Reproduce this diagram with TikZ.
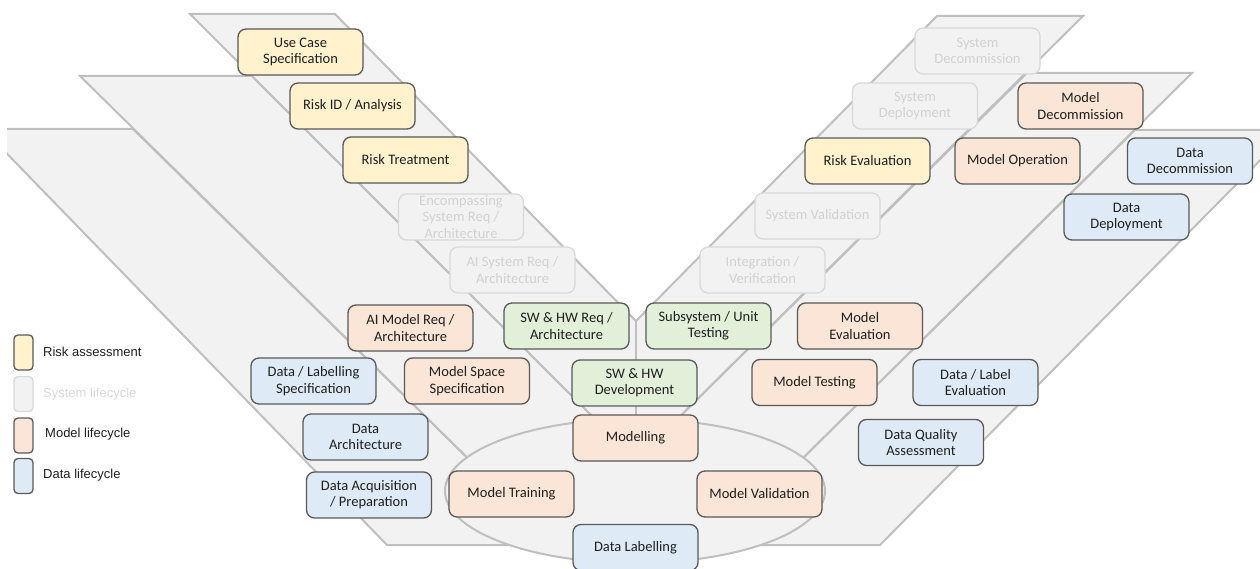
\documentclass[tikz,border=0pt]{standalone}
\usepackage{fontspec}
\setmainfont{Carlito}
\newfontfamily\legfont{Liberation Sans}
\definecolor{bandfill}{HTML}{F2F2F2}
\definecolor{bandline}{HTML}{BFBFBF}
\definecolor{boxline}{HTML}{595959}
\definecolor{boxtext}{HTML}{1F1F1F}
\definecolor{riskfill}{HTML}{FFF2CC}
\definecolor{modelfill}{HTML}{FBE5D6}
\definecolor{datafill}{HTML}{DEEBF7}
\definecolor{swfill}{HTML}{E2F0D9}
\definecolor{sysline}{HTML}{D9D9D9}
\definecolor{systext}{HTML}{D2D2D2}
\newcommand\boxfont{\fontsize{14.5}{16.3}\selectfont}
\newcommand\legsize{\legfont\fontsize{13}{15}\selectfont}
\tikzset{
  band/.style={fill=bandfill, draw=bandline, line width=2pt, line join=miter},
  seam/.style={draw=bandline, line width=2pt},
  box/.style={rectangle, rounded corners=8pt, minimum width=125pt, minimum height=46pt,
    line width=1.3pt, align=center, font=\boxfont, inner sep=1pt, text=boxtext},
  risk/.style={box, fill=riskfill, draw=boxline},
  model/.style={box, fill=modelfill, draw=boxline},
  data/.style={box, fill=datafill, draw=boxline},
  swhw/.style={box, fill=swfill, draw=boxline},
  sys/.style={box, fill=bandfill, draw=sysline, text=systext},
  legbox/.style={rectangle, rounded corners=4pt, minimum width=19pt, minimum height=35pt,
    line width=1.3pt, inner sep=0pt},
  legtext/.style={anchor=west, font=\legsize, text=boxtext, inner sep=0pt},
}
\begin{document}
\begin{tikzpicture}[x=1pt, y=-1pt]
\useasboundingbox (0,0) rectangle (1260,569);
\begin{scope}
  \clip (7,0) rectangle (1260,569);
  % data band (outer)
  \path[band] (-17,129) -- (133,129) -- (556,545) -- (715,545) -- (1135,130) -- (1290,130)
     -- (880,545) -- (387,545) -- cycle;
  % model band
  \path[band] (80,76) -- (252,76) -- (636,460) -- (1027,73) -- (1192,73) -- (715,545)
     -- (556,545) -- cycle;
  % system band
  \path[band] (190,14) -- (335,14) -- (636,321) -- (937,16) -- (1083,16) -- (636,460) -- cycle;
  \coordinate (vtop) at (636,321);
  \coordinate (vbot) at (636,460);
  \draw[seam] (vtop) -- (vbot);
\end{scope}
\path[band] (635,491) ellipse [x radius=190pt, y radius=72pt];

% boxes
\node[risk] (uc) at (300.5,52) {Use Case\\Specification};
\node[risk] (rid) at (352.5,106) {Risk ID / Analysis};
\node[risk] (rt) at (405.5,160) {Risk Treatment};
\node[sys] (esr) at (461,217) {Encompassing\\System Req /\\Architecture};
\node[sys] (aisr) at (512.5,270) {AI System Req /\\Architecture};
\node[model] (aimr) at (410.5,328) {AI Model Req /\\Architecture};
\node[swhw] (swreq) at (566.5,326) {SW \& HW Req /\\Architecture};
\node[swhw] (sub) at (708.5,326) {Subsystem / Unit\\Testing};
\node[model] (meval) at (860,326) {Model\\Evaluation};
\node[data] (dls) at (313.5,381) {Data / Labelling\\Specification};
\node[model] (mss) at (467,381) {Model Space\\Specification};
\node[swhw] (swdev) at (634.5,383) {SW \& HW\\Development};
\node[model] (mtest) at (814.5,382.5) {Model Testing};
\node[data] (dle) at (975.5,382.5) {Data / Label\\Evaluation};
\node[data] (darch) at (365.5,437) {Data\\Architecture};
\node[data] (dqa) at (921,442.5) {Data Quality\\Assessment};
\node[model] (modelling) at (635.5,438) {Modelling};
\node[data] (dacq) at (369,495) {Data Acquisition\\/ Preparation};
\node[model] (mtrain) at (511.5,494) {Model Training};
\node[model] (mval) at (759.5,494) {Model Validation};
\node[data] (dlab) at (635.5,547.5) {Data Labelling};
\node[sys] (intver) at (762.5,270) {Integration /\\Verification};
\node[sys] (sysval) at (817.5,216) {System Validation};
\node[risk] (reval) at (867.5,161) {Risk Evaluation};
\node[sys] (sysdep) at (915,106) {System\\Deployment};
\node[sys] (sysdec) at (977.5,51) {System\\Decommission};
\node[model] (mdec) at (1080.5,106) {Model\\Decommission};
\node[model] (mop) at (1017.5,161) {Model Operation};
\node[data] (ddec) at (1190,161) {Data\\Decommission};
\node[data] (ddep) at (1126.5,217) {Data\\Deployment};

% legend
\node[legbox, fill=riskfill, draw=boxline] (lrisk) at (23.5,352.5) {};
\node[legtext] (lrisktxt) at (43,352) {Risk assessment};
\node[legbox, fill=bandfill, draw=sysline] (lsys) at (23.5,394) {};
\node[legtext, text=sysline] (lsystxt) at (43,394) {System lifecycle};
\node[legbox, fill=modelfill, draw=boxline] (lmodel) at (23.5,435.5) {};
\node[legtext] (lmodeltxt) at (45,434) {Model lifecycle};
\node[legbox, fill=datafill, draw=boxline] (ldata) at (23.5,476) {};
\node[legtext] (ldatatxt) at (43,475) {Data lifecycle};
\end{tikzpicture}
\end{document}
